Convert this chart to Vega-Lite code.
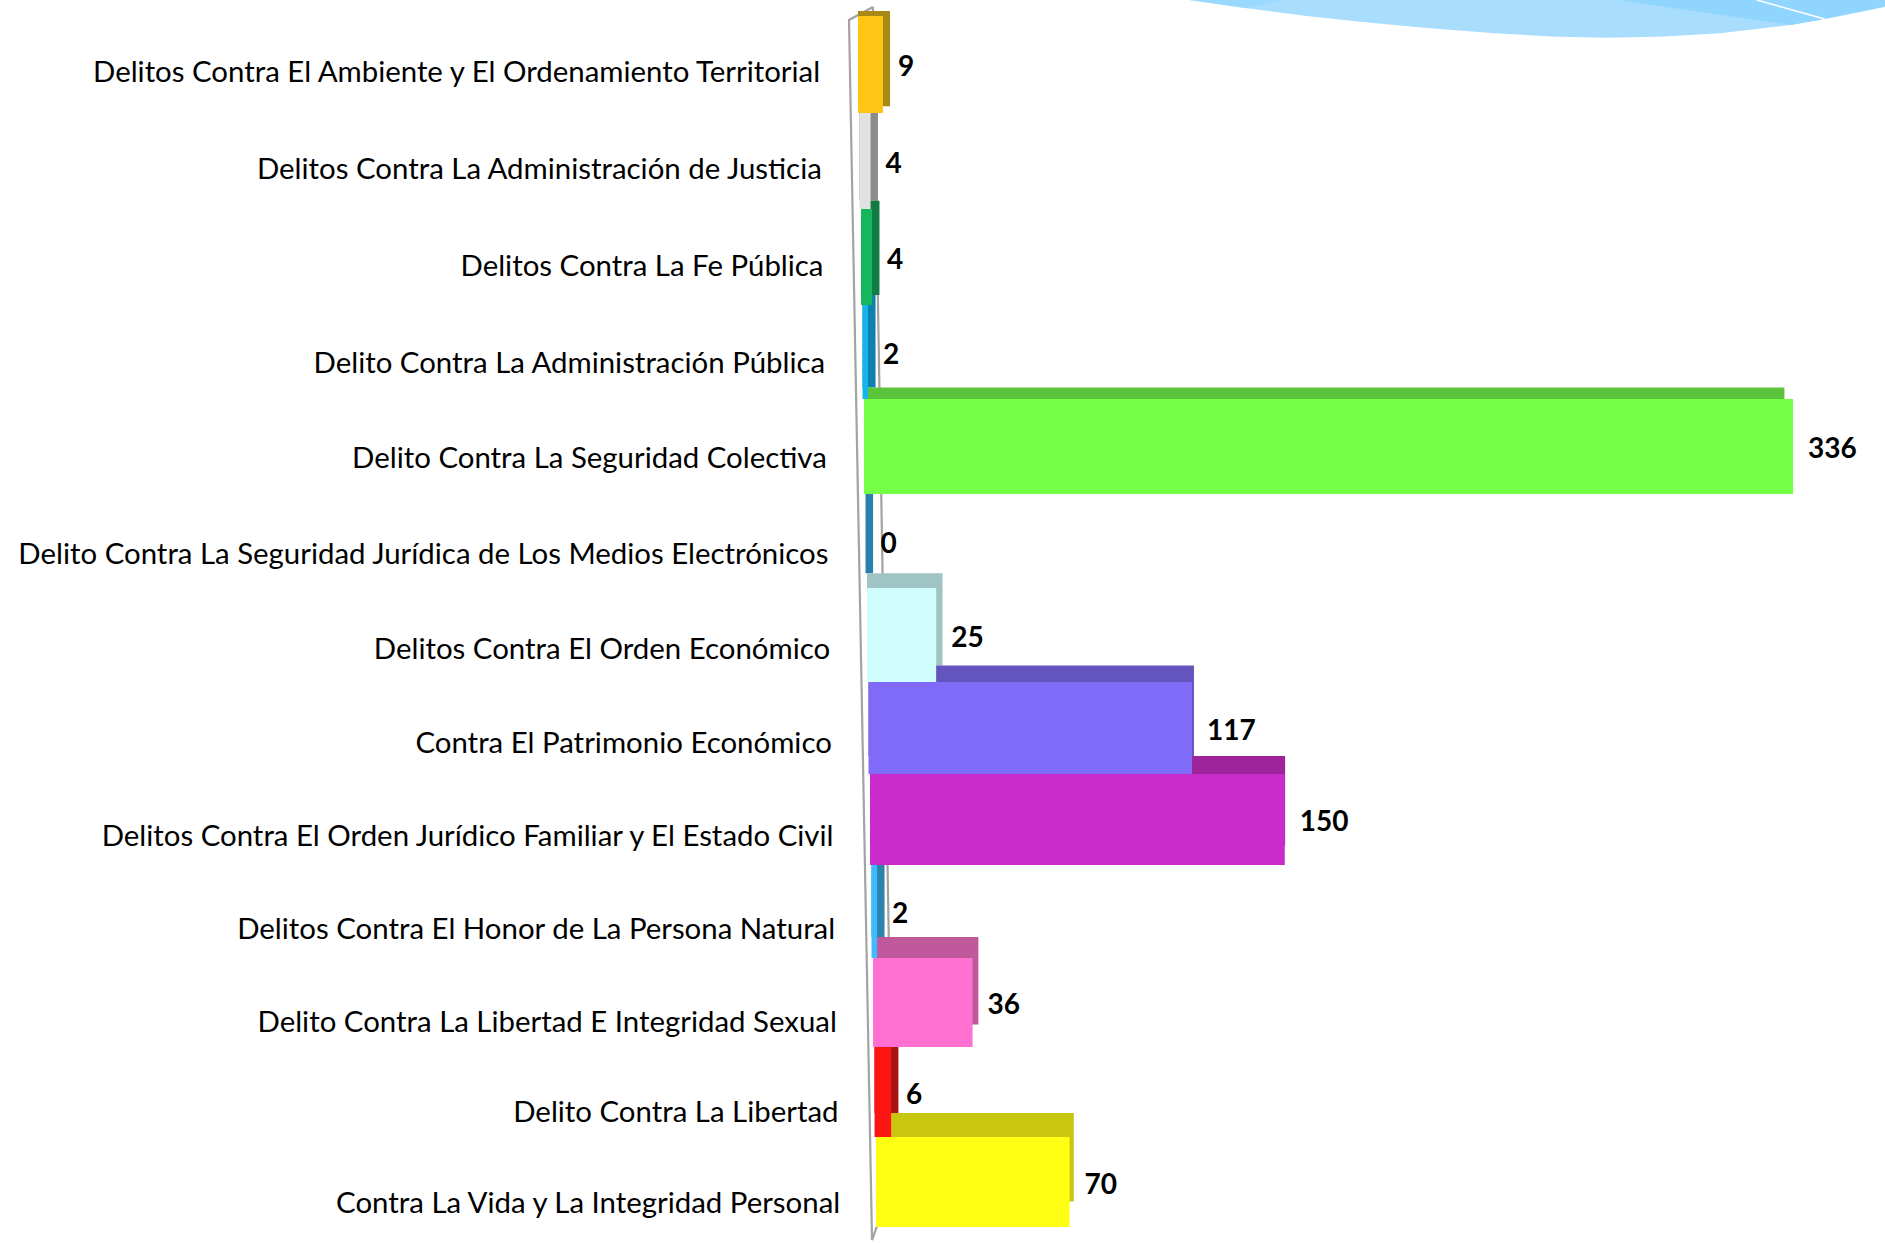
{
"$schema":"https://vega.github.io/schema/vega-lite/v6.json",
"width":1885,"height":1243,"padding":0,
"autosize":{"type":"none"},
"background":"white",
"config":{"view":{"stroke":null}},
"datasets":{
"delitos":[
{"categoria":"Delitos Contra El Ambiente y El Ordenamiento Territorial","casos":9,"fila":0,"filaFin":1,"filaMedia":0.5},
{"categoria":"Delitos Contra La Administración de Justicia","casos":4,"fila":1,"filaFin":2,"filaMedia":1.5},
{"categoria":"Delitos Contra La Fe Pública","casos":4,"fila":2,"filaFin":3,"filaMedia":2.5},
{"categoria":"Delito Contra La Administración Pública","casos":2,"fila":3,"filaFin":4,"filaMedia":3.5},
{"categoria":"Delito Contra La Seguridad Colectiva","casos":336,"fila":4,"filaFin":5,"filaMedia":4.5},
{"categoria":"Delito Contra La Seguridad Jurídica de Los Medios Electrónicos","casos":0,"fila":5,"filaFin":6,"filaMedia":5.5},
{"categoria":"Delitos Contra El Orden Económico","casos":25,"fila":6,"filaFin":7,"filaMedia":6.5},
{"categoria":"Contra El Patrimonio Económico","casos":117,"fila":7,"filaFin":8,"filaMedia":7.5},
{"categoria":"Delitos Contra El Orden Jurídico Familiar y El Estado Civil","casos":150,"fila":8,"filaFin":9,"filaMedia":8.5},
{"categoria":"Delitos Contra El Honor de La Persona  Natural","casos":2,"fila":9,"filaFin":10,"filaMedia":9.5},
{"categoria":"Delito Contra La Libertad E Integridad Sexual","casos":36,"fila":10,"filaFin":11,"filaMedia":10.5},
{"categoria":"Delito Contra La Libertad","casos":6,"fila":11,"filaFin":12,"filaMedia":11.5},
{"categoria":"Contra La Vida y La Integridad Personal","casos":70,"fila":12,"filaFin":13,"filaMedia":12.5}
],
"marco":[
{"u":46.31,"v":0.56,"orden":0},{"u":45.04,"v":1.61,"orden":1},{"u":46.26,"v":99.76,"orden":2},{"u":47.37,"v":95.09,"orden":3},{"u":46.31,"v":0.56,"orden":4}
],
"ola":[
{"u":63.1,"v":0},{"u":66.15,"v":0.67},{"u":69.1,"v":1.25},{"u":72.15,"v":1.75},{"u":75.7,"v":2.25},{"u":79.3,"v":2.68},{"u":82.3,"v":2.93},{"u":85.25,"v":3.03},{"u":88.3,"v":2.93},{"u":91.25,"v":2.68},{"u":95.0,"v":2.01},{"u":96.8,"v":1.53},{"u":100,"v":0.54}
],
"ola2":[
{"u":85.84,"v":0},{"u":95.0,"v":2.01},{"u":96.8,"v":1.53},{"u":100,"v":0.54}
],
"ola3":[
{"u":63.1,"v":0},{"u":66.15,"v":0.67},{"u":68.05,"v":0}
],
"linea":[
{"u":93.2,"v":0,"orden":0},{"u":96.8,"v":1.53,"orden":1}
]
},
"resolve":{"scale":{"x":"independent","y":"independent","color":"independent"}},
"layer":[
{"data":{"name":"ola"},"mark":{"type":"area","color":"#A8DDFD","clip":false},
 "encoding":{"x":{"field":"u","type":"quantitative","axis":null,"scale":{"domain":[0,100],"range":[0,1885],"nice":false,"zero":false}},
 "y":{"field":"v","type":"quantitative","axis":null,"scale":{"domain":[0,100],"range":[0,1243],"nice":false,"zero":false}},
 "y2":{"datum":0}}},
{"data":{"name":"ola2"},"mark":{"type":"area","color":"#90D5FD","clip":false},
 "encoding":{"x":{"field":"u","type":"quantitative","axis":null,"scale":{"domain":[0,100],"range":[0,1885],"nice":false,"zero":false}},
 "y":{"field":"v","type":"quantitative","axis":null,"scale":{"domain":[0,100],"range":[0,1243],"nice":false,"zero":false}},
 "y2":{"datum":0}}},
{"data":{"name":"ola3"},"mark":{"type":"area","color":"#9AD9FD","clip":false},
 "encoding":{"x":{"field":"u","type":"quantitative","axis":null,"scale":{"domain":[0,100],"range":[0,1885],"nice":false,"zero":false}},
 "y":{"field":"v","type":"quantitative","axis":null,"scale":{"domain":[0,100],"range":[0,1243],"nice":false,"zero":false}},
 "y2":{"datum":0}}},
{"data":{"name":"linea"},"mark":{"type":"line","color":"#FFFFFF","strokeWidth":1.5,"clip":false},
 "encoding":{"x":{"field":"u","type":"quantitative","axis":null,"scale":{"domain":[0,100],"range":[0,1885],"nice":false,"zero":false}},
 "y":{"field":"v","type":"quantitative","axis":null,"scale":{"domain":[0,100],"range":[0,1243],"nice":false,"zero":false}},
 "order":{"field":"orden"}}},
{"data":{"name":"marco"},"mark":{"type":"line","color":"#A3A3A3","strokeWidth":2.2,"clip":false},
 "encoding":{"x":{"field":"u","type":"quantitative","axis":null,"scale":{"domain":[0,100],"range":[0,1885],"nice":false,"zero":false}},
 "y":{"field":"v","type":"quantitative","axis":null,"scale":{"domain":[0,100],"range":[0,1243],"nice":false,"zero":false}},
 "order":{"field":"orden"}}},
{"data":{"name":"delitos"},"mark":{"type":"rect","clip":false,"xOffset":{"expr":"1.5*datum.fila"},"x2Offset":{"expr":"1.5*datum.fila"}},
 "encoding":{
 "x":{"field":"casos","type":"quantitative","axis":null,"scale":{"domain":[-310.3,371.4],"range":[22.6,1874.6],"nice":false,"zero":false}},
 "x2":{"datum":-2.8},
 "y":{"field":"fila","type":"quantitative","axis":null,"scale":{"domain":[0,1,2,3,4,5,6,7,8,9,10,11,12,13],"range":[11,106.3,200.7,295.1,387.5,480.8,573.2,665.6,756.1,845.5,936.9,1024.4,1112.9,1201.4]}},
 "y2":{"field":"filaFin"},
 "color":{"field":"categoria","type":"nominal","legend":null,"sort":null,"scale":{"domain":["Delitos Contra El Ambiente y El Ordenamiento Territorial","Delitos Contra La Administración de Justicia","Delitos Contra La Fe Pública","Delito Contra La Administración Pública","Delito Contra La Seguridad Colectiva","Delito Contra La Seguridad Jurídica de Los Medios Electrónicos","Delitos Contra El Orden Económico","Contra El Patrimonio Económico","Delitos Contra El Orden Jurídico Familiar y El Estado Civil","Delitos Contra El Honor de La Persona  Natural","Delito Contra La Libertad E Integridad Sexual","Delito Contra La Libertad","Contra La Vida y La Integridad Personal"],"range":["#A98814","#8C8C8C","#127A42","#0F7FAE","#5CC43A","#2C80AE","#A0C4C4","#6354BE","#9E249C","#2E82AE","#C0589C","#A81414","#C8C60E"]}}
 }},
{"data":{"name":"delitos"},"mark":{"type":"rect","clip":false,"xOffset":{"expr":"1.5*datum.fila"},"x2Offset":{"expr":"1.5*datum.fila"}},
 "encoding":{
 "x":{"field":"casos","type":"quantitative","axis":null,"scale":{"domain":[-310.3,371.4],"range":[0,1885],"nice":false,"zero":false}},
 "x2":{"datum":0},
 "y":{"field":"fila","type":"quantitative","axis":null,"scale":{"domain":[0,1,2,3,4,5,6,7,8,9,10,11,12,13],"range":[16,113,209,305,399,494,588,682,774,865,958,1047,1137,1227]}},
 "y2":{"field":"filaFin"},
 "color":{"field":"categoria","type":"nominal","legend":null,"sort":null,"scale":{"domain":["Delitos Contra El Ambiente y El Ordenamiento Territorial","Delitos Contra La Administración de Justicia","Delitos Contra La Fe Pública","Delito Contra La Administración Pública","Delito Contra La Seguridad Colectiva","Delito Contra La Seguridad Jurídica de Los Medios Electrónicos","Delitos Contra El Orden Económico","Contra El Patrimonio Económico","Delitos Contra El Orden Jurídico Familiar y El Estado Civil","Delitos Contra El Honor de La Persona  Natural","Delito Contra La Libertad E Integridad Sexual","Delito Contra La Libertad","Contra La Vida y La Integridad Personal"],"range":["#FFC514","#E2E2E2","#14B75C","#14B4EE","#76FF47","#2E86B8","#CFFCFC","#806AF8","#C82CCB","#3CBBFF","#FF70D0","#FF1414","#FFFF14"]}}
 }},
{"data":{"name":"delitos"},"mark":{"type":"text","clip":false,"align":"left","baseline":"middle","font":"Lato","fontWeight":"bold","fontSize":28,"color":"#000000","xOffset":{"expr":"1.5*datum.fila+15"},"yOffset":3.5},
 "encoding":{
 "x":{"field":"casos","type":"quantitative","axis":null,"scale":{"domain":[-310.3,371.4],"range":[0,1885],"nice":false,"zero":false}},
 "y":{"field":"filaMedia","type":"quantitative","axis":null,"scale":{"domain":[0,1,2,3,4,5,6,7,8,9,10,11,12,13],"range":[16,113,209,305,399,494,588,682,774,865,958,1047,1137,1227]}},
 "text":{"field":"casos","type":"quantitative"}
 }},
{"data":{"name":"delitos"},"mark":{"type":"text","clip":false,"align":"right","baseline":"middle","font":"Lato","fontSize":29.4,"color":"#000000","xOffset":{"expr":"1.67*datum.fila"},"yOffset":{"expr":"8+1.2*datum.fila"}},
 "encoding":{
 "x":{"datum":-13.7,"type":"quantitative","axis":null,"scale":{"domain":[-310.3,371.4],"range":[0,1885],"nice":false,"zero":false}},
 "y":{"field":"filaMedia","type":"quantitative","axis":null,"scale":{"domain":[0,1,2,3,4,5,6,7,8,9,10,11,12,13],"range":[16,113,209,305,399,494,588,682,774,865,958,1047,1137,1227]}},
 "text":{"field":"categoria","type":"nominal"}
 }}
]
}
